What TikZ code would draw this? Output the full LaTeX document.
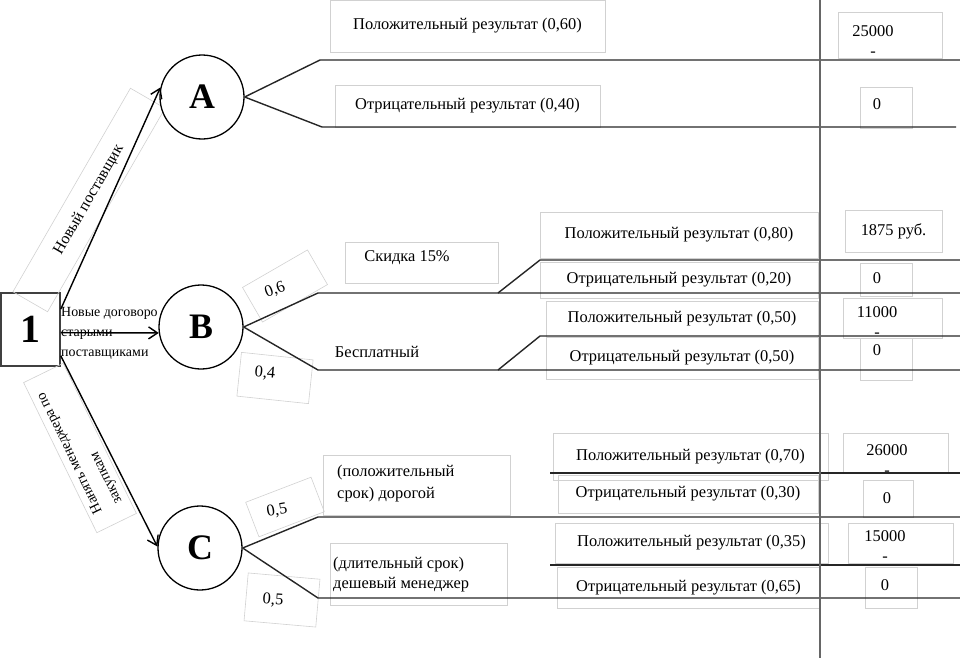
\documentclass[tikz,border=0pt]{standalone}
\usepackage{fontspec}
\setmainfont{Liberation Serif}
\usepackage{tikz}
\usetikzlibrary{arrows.meta}
\newcommand{\lbl}{\fontsize{16.5}{20}\selectfont}

\begin{document}
\begin{tikzpicture}[
  tbox/.style={draw=black!18,line width=0.6bp,inner sep=0pt},
  txt/.style={font=\lbl,inner sep=0pt},
  branch/.style={line width=1.4bp,black!85},
  pick/.style={-{Straight Barb[length=9bp,width=12bp]},line width=1.4bp},
  chance/.style={draw,circle,fill=white,line width=1.3bp,minimum size=84bp,inner sep=0pt,font=\fontsize{36}{36}\selectfont\bfseries}
]
\useasboundingbox (0bp,0bp) rectangle (960bp,-658bp);

% decision and the three choices
\node (n1) at (30.5bp,-329.5bp)[draw=black!75,line width=1.6bp,minimum width=59bp,minimum height=73bp,inner sep=0pt,font=\fontsize{40}{40}\selectfont\bfseries] {1};
\node (newsup) at (89bp,-200bp)[tbox,rotate=60,minimum width=235bp,minimum height=40bp,font=\fontsize{16}{20}\selectfont] {Новый поставщик};
\node (hire) at (80bp,-448bp)[tbox,rotate=116,minimum width=167bp,minimum height=44bp,align=left,font=\fontsize{14.5}{22}\selectfont] {Нанять менеджера по\\закупкам};
\node (old) at (61bp,-333bp)[anchor=west,align=left,inner sep=0pt,font=\fontsize{14}{20}\selectfont] {Новые договоро\\старыми\\поставщиками};
\node (A) at (202bp,-97bp)[chance] {A};
\node (B) at (201bp,-327bp)[chance] {B};
\node (C) at (200bp,-548bp)[chance] {C};
\draw [pick] (n1.34) to (A.167);
\draw [pick] (n1.-6) to (B.188);
\draw [pick] (n1.-41) to (C.178);

% branch A
\node (pA) at (467.5bp,-26bp)[tbox,txt,minimum width=275bp,minimum height=52bp] {Положительный результат (0,60)};
\node (nA) at (467.5bp,-106bp)[tbox,txt,minimum width=265bp,minimum height=42bp] {Отрицательный результат (0,40)};
\node (vpAbox) at (890bp,-35bp)[tbox,minimum width=104bp,minimum height=46bp] {};
\node (vpA) at (873bp,-41bp)[txt,align=center] {25000\\-};
\node (vnAbox) at (886bp,-107.5bp)[tbox,minimum width=52bp,minimum height=41bp] {};
\node (vnA) at (877bp,-104bp)[txt] {0};
\coordinate (Ap) at (320bp,-60bp);
\coordinate (Ape) at (960bp,-60bp);
\coordinate (An) at (322bp,-127bp);
\coordinate (Ane) at (956bp,-127bp);
\draw [branch] (A.east) to (Ap) to (Ape);
\draw [branch] (A.east) to (An) to (Ane);

% branch B
\node (skbox) at (421.5bp,-262.5bp)[tbox,minimum width=153bp,minimum height=41bp] {};
\node (sk) at (407bp,-258bp)[txt] {Скидка 15\%};
\node (fr) at (377bp,-352bp)[txt] {Бесплатный};
\node (pB06box) at (285bp,-286bp)[tbox,rotate=30,minimum width=75bp,minimum height=40bp] {};
\node (pB06) at (275bp,-290bp)[txt,rotate=20] {0,6};
\node (pB04box) at (275bp,-378bp)[tbox,rotate=-6,minimum width=72bp,minimum height=44bp] {};
\node (pB04) at (265bp,-373bp)[txt,rotate=-5] {0,4};
\node (pB1) at (679bp,-235bp)[tbox,txt,minimum width=278bp,minimum height=46bp] {Положительный результат (0,80)};
\node (nB1) at (679bp,-280bp)[tbox,txt,minimum width=278bp,minimum height=36bp] {Отрицательный результат (0,20)};
\node (pB2) at (682bp,-319bp)[tbox,txt,minimum width=272bp,minimum height=36bp] {Положительный результат (0,50)};
\node (nB2) at (682bp,-358bp)[tbox,txt,minimum width=272bp,minimum height=42bp] {Отрицательный результат (0,50)};
\node (vpB1) at (893.5bp,-231bp)[tbox,txt,minimum width=97bp,minimum height=42bp] {1875 руб.};
\node (vnB1box) at (886bp,-279.5bp)[tbox,minimum width=52bp,minimum height=33bp] {};
\node (vnB1) at (877bp,-278bp)[txt] {0};
\node (vpB2box) at (892.5bp,-318bp)[tbox,minimum width=99bp,minimum height=40bp] {};
\node (vpB2) at (877bp,-322bp)[txt,align=center] {11000\\-};
\node (vnB2box) at (886bp,-359bp)[tbox,minimum width=52bp,minimum height=42bp] {};
\node (vnB2) at (877bp,-350bp)[txt] {0};
\coordinate (Bs) at (318bp,-293bp);
\coordinate (Bsd) at (498bp,-293bp);
\coordinate (Bsu) at (540bp,-260bp);
\coordinate (Bsue) at (960bp,-260bp);
\coordinate (Bse) at (960bp,-293bp);
\coordinate (Bf) at (318bp,-370bp);
\coordinate (Bfd) at (498bp,-370bp);
\coordinate (Bfu) at (540bp,-336bp);
\coordinate (Bfue) at (960bp,-336bp);
\coordinate (Bfe) at (960bp,-370bp);
\draw [branch] (B.east) to (Bs) to (Bse);
\draw [branch] (Bsd) to (Bsu) to (Bsue);
\draw [branch] (B.east) to (Bf) to (Bfe);
\draw [branch] (Bfd) to (Bfu) to (Bfue);

% branch C
\node (dearbox) at (416.5bp,-485bp)[tbox,minimum width=187bp,minimum height=60bp] {};
\node (dear) at (337bp,-484bp)[txt,anchor=west,align=left,font=\fontsize{16.5}{22}\selectfont] {(положительный\\срок) дорогой};
\node (cheapbox) at (418.5bp,-574bp)[tbox,minimum width=177bp,minimum height=62bp] {};
\node (cheap) at (333bp,-575bp)[txt,anchor=west,align=left] {(длительный срок)\\дешевый менеджер};
\node (pC05box) at (285bp,-507bp)[tbox,rotate=21,minimum width=70bp,minimum height=37bp] {};
\node (pC05) at (277bp,-511bp)[txt,rotate=10] {0,5};
\node (qC05box) at (282bp,-600bp)[tbox,rotate=-5,minimum width=72bp,minimum height=48bp] {};
\node (qC05) at (273bp,-600bp)[txt,rotate=-4] {0,5};
\node (pC1) at (690.5bp,-456.5bp)[tbox,txt,minimum width=275bp,minimum height=47bp] {Положительный результат (0,70)};
\node (nC1) at (688bp,-494bp)[tbox,txt,minimum width=260bp,minimum height=38bp] {Отрицательный результат (0,30)};
\node (pC2) at (691.5bp,-543bp)[tbox,txt,minimum width=273bp,minimum height=40bp] {Положительный результат (0,35)};
\node (nC2) at (688.5bp,-587.5bp)[tbox,txt,minimum width=263bp,minimum height=41bp] {Отрицательный результат (0,65)};
\node (vpC1box) at (895.5bp,-452.5bp)[tbox,minimum width=105bp,minimum height=39bp] {};
\node (vpC1) at (887bp,-460bp)[txt,align=center] {26000\\-};
\node (vnC1box) at (888bp,-498.5bp)[tbox,minimum width=50bp,minimum height=37bp] {};
\node (vnC1) at (887bp,-498bp)[txt] {0};
\node (vpC2box) at (900.5bp,-543bp)[tbox,minimum width=105bp,minimum height=40bp] {};
\node (vpC2) at (885bp,-546bp)[txt,align=center] {15000\\-};
\node (vnC2box) at (891bp,-587.5bp)[tbox,minimum width=52bp,minimum height=41bp] {};
\node (vnC2) at (885bp,-585bp)[txt] {0};
\coordinate (Cd) at (318bp,-517bp);
\coordinate (Cde) at (960bp,-517bp);
\coordinate (Cc) at (318bp,-598bp);
\coordinate (Cce) at (960bp,-598bp);
\coordinate (Cdu) at (550bp,-473bp);
\coordinate (Cdue) at (960bp,-473bp);
\coordinate (Ccu) at (550bp,-565bp);
\coordinate (Ccue) at (960bp,-565bp);
\draw [branch] (C.east) to (Cd) to (Cde);
\draw [branch] (C.east) to (Cc) to (Cce);
\draw [branch] (Cdu) to (Cdue);
\draw [branch] (Ccu) to (Ccue);

% divider
\coordinate (divtop) at (820bp,0bp);
\coordinate (divbot) at (820bp,-658bp);
\draw [black!60,line width=2bp] (divtop) to (divbot);
\end{tikzpicture}
\end{document}
